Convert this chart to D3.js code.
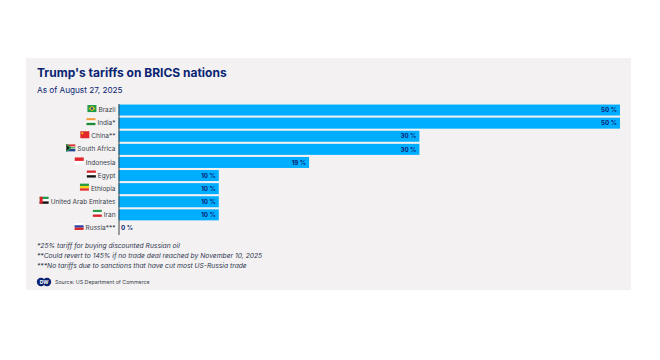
<!DOCTYPE html>
<html>
<head>
<meta charset="utf-8">
<script src="https://cdnjs.cloudflare.com/ajax/libs/d3/7.8.5/d3.min.js"></script>
<style>
  html, body { margin: 0; padding: 0; background: #fff; }
  svg { display: block; font-family: Inter, "Noto Sans", sans-serif; }
</style>
</head>
<body>
<svg id="chart" width="660" height="360"></svg>
<script>
const countries = ["Brazil", "India*", "China**", "South Africa", "Indonesia", "Egypt", "Ethiopia", "United Arab Emirates", "Iran", "Russia***"];
const tariffs = [50, 50, 30, 30, 19, 10, 10, 10, 10, 0];
const flagStripes = [
  ["#1f9a4b"],
  ["#f39a3c", "#ffffff", "#1f8a3c"],
  ["#e3262a"],
  ["#d93a33", "#ffffff", "#24408f"],
  ["#e3262a", "#ffffff"],
  ["#d8232a", "#ffffff", "#111111"],
  ["#2a9a3f", "#f5d416", "#e0302a"],
  ["#1f9a4b", "#ffffff", "#111111"],
  ["#2a9a4b", "#ffffff", "#d8232a"],
  ["#ffffff", "#2a3f9f", "#d8232a"]
];
const notes = [
  "*25% tariff for buying discounted Russian oil",
  "**Could revert to 145% if no trade deal reached by November 10, 2025",
  "***No tariffs due to sanctions that have cut most US-Russia trade"
];

const svg = d3.select("#chart");
const navy = "#0a2472";

svg.append("rect")
  .attr("x", 26).attr("y", 58)
  .attr("width", 605).attr("height", 232)
  .attr("fill", "#f3f1f2");

svg.append("text")
  .attr("x", 37).attr("y", 77)
  .attr("fill", navy)
  .style("font-size", "12px")
  .style("font-weight", 700)
  .text("Trump's tariffs on BRICS nations");

svg.append("text")
  .attr("x", 37).attr("y", 93)
  .attr("fill", navy)
  .style("font-size", "8.2px")
  .text("As of August 27, 2025");

const x = d3.scaleLinear().domain([0, 50]).range([118.5, 620]);
const y = d3.scaleBand().domain(countries).range([103.5, 234.5]).paddingInner(0.16).paddingOuter(0.08);

const rows = countries.map((name, i) => ({ name, value: tariffs[i], stripes: flagStripes[i] }));

svg.selectAll("rect.bar")
  .data(rows)
  .join("rect")
  .attr("class", "bar")
  .attr("x", x(0))
  .attr("y", d => y(d.name))
  .attr("width", d => x(d.value) - x(0))
  .attr("height", y.bandwidth())
  .attr("fill", "#00aeff");

svg.selectAll("text.value")
  .data(rows)
  .join("text")
  .attr("class", "value")
  .attr("x", d => d.value > 0 ? x(d.value) - 3 : x(0) + 2.5)
  .attr("y", d => y(d.name) + y.bandwidth() / 2)
  .attr("dy", "0.35em")
  .attr("text-anchor", d => d.value > 0 ? "end" : "start")
  .attr("fill", navy)
  .style("font-size", "6.2px")
  .style("font-weight", 700)
  .text(d => d.value + " %");

const axis = svg.append("g")
  .attr("transform", "translate(" + x(0) + ",0)")
  .call(d3.axisLeft(y).tickSize(0).tickPadding(3));

axis.select(".domain").attr("stroke", "#444").attr("stroke-width", 1);
axis.selectAll("text")
  .attr("fill", "#3a3f4a")
  .style("font-family", "Inter, sans-serif")
  .style("font-size", "6.5px");

// flags sit just left of each label, a little above its centre
axis.selectAll(".tick").each(function (name, i) {
  const label = d3.select(this).select("text");
  const w = label.node().getComputedTextLength();
  const stripes = flagStripes[i];
  const fw = 9, fh = 7;
  const flag = d3.select(this).append("g")
    .attr("transform", "translate(" + (-3 - w - 2 - fw) + "," + (-fh / 2 - 1.5) + ")");
  const band = d3.scaleBand().domain(d3.range(stripes.length)).range([0, fh]);
  flag.selectAll("rect")
    .data(stripes)
    .join("rect")
    .attr("width", fw)
    .attr("y", (d, k) => band(k))
    .attr("height", band.bandwidth())
    .attr("fill", d => d);
  if (name === "Brazil") {
    flag.append("path").attr("d", "M4.5 1L8 3.5L4.5 6L1 3.5Z").attr("fill", "#f5d416");
    flag.append("circle").attr("cx", 4.5).attr("cy", 3.5).attr("r", 1.3).attr("fill", "#24408f");
  }
  if (name === "South Africa") {
    flag.append("path").attr("d", "M0 0L4.5 3.5L0 7Z").attr("fill", "#111");
    flag.append("path").attr("d", "M0 0L4.5 3.5L0 7M4.5 3.5H9").attr("fill", "none").attr("stroke", "#2a9a4b").attr("stroke-width", 1.4);
  }
  if (name === "United Arab Emirates") {
    flag.append("rect").attr("width", 3).attr("height", fh).attr("fill", "#d8232a");
  }
  if (name === "China**") {
    flag.append("circle").attr("cx", 2).attr("cy", 2).attr("r", 1).attr("fill", "#f5d416");
  }
});

svg.append("g").selectAll("text")
  .data(notes)
  .join("text")
  .attr("x", 37)
  .attr("y", (d, i) => 248 + i * 10)
  .attr("fill", "#2f3850")
  .style("font-size", "6.72px")
  .style("font-style", "italic")
  .text(d => d);

const logo = svg.append("g").attr("transform", "translate(44,282)");
logo.append("circle").attr("cx", -3).attr("r", 4.2).attr("fill", navy);
logo.append("circle").attr("cx", 3).attr("r", 4.2).attr("fill", navy);
logo.append("text")
  .attr("text-anchor", "middle").attr("dy", "0.35em")
  .attr("fill", "#fff")
  .style("font-size", "5px").style("font-weight", 700)
  .text("DW");

svg.append("text")
  .attr("x", 55).attr("y", 284)
  .attr("fill", "#3a3f4a")
  .style("font-size", "5.3px")
  .text("Source: US Department of Commerce");
</script>
</body>
</html>
